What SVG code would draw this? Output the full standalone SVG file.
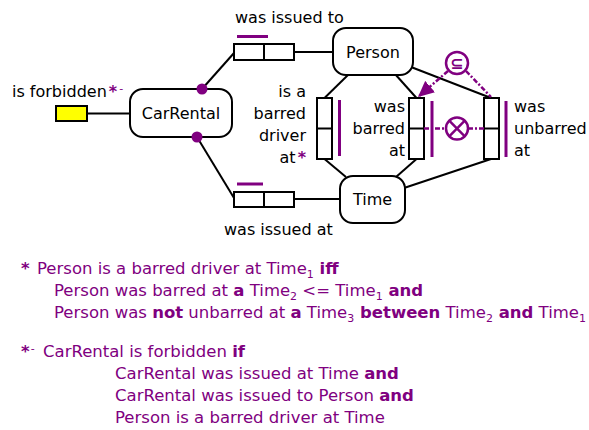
<svg xmlns="http://www.w3.org/2000/svg" width="589" height="430" viewBox="0 0 589 430">
<defs>
<style>
.t{font-family:"DejaVu Sans","Noto Sans",sans-serif;font-size:16px;fill:#000}
.n{font-family:"DejaVu Sans","Noto Sans",sans-serif;font-size:16.5px;fill:#800080}
.p{fill:#800080}
.b{font-weight:bold}
.ln{stroke:#000;stroke-width:2;fill:none}
.box{fill:#fff;stroke:#000;stroke-width:2}
.ent{fill:#fff;stroke:#000;stroke-width:2}
.pbar{stroke:#800080;stroke-width:3;fill:none}
.dash{stroke:#800080;stroke-width:2.5;stroke-dasharray:5 2 2 2;fill:none}
.pc{fill:#fff;stroke:#800080;stroke-width:2.5}
.dot{fill:#800080}
</style>
<marker id="arr" markerUnits="userSpaceOnUse" markerWidth="17" markerHeight="15" refX="16" refY="7.5" orient="auto">
<path d="M0,0 L16,7.5 L0,15 Z" fill="#800080"/>
</marker>
</defs>
<rect width="589" height="430" fill="#fff"/>

<g id="connectors">
<line class="ln" x1="87" y1="113.5" x2="130" y2="113.5"/>
<line class="ln" x1="202" y1="89" x2="234" y2="53"/>
<line class="ln" x1="197" y1="137" x2="234" y2="198"/>
<line class="ln" x1="294" y1="52" x2="333" y2="52"/>
<line class="ln" x1="294" y1="199" x2="340" y2="199"/>
<line class="ln" x1="349" y1="74" x2="324.5" y2="98"/>
<line class="ln" x1="324.5" y1="159" x2="346" y2="177"/>
<line class="ln" x1="395" y1="74" x2="416.5" y2="98"/>
<line class="ln" x1="416.5" y1="159" x2="396" y2="177"/>
<line class="ln" x1="411" y1="67" x2="491" y2="98"/>
<line class="ln" x1="404" y1="188" x2="491" y2="159"/>
</g>

<g id="CarRental">
<rect class="ent" x="130" y="89" width="102" height="48" rx="13"/>
<text class="t" x="181" y="119" text-anchor="middle">CarRental</text>
<circle class="dot" cx="202" cy="89" r="5.5"/>
<circle class="dot" cx="197" cy="137" r="5.5"/>
</g>

<g id="Person">
<rect class="ent" x="333" y="28" width="80" height="47" rx="13"/>
<text class="t" x="373" y="58" text-anchor="middle">Person</text>
</g>

<g id="Time">
<rect class="ent" x="340" y="176" width="65" height="47" rx="13"/>
<text class="t" x="372.5" y="205" text-anchor="middle">Time</text>
</g>

<g id="ft-forbidden">
<rect x="56" y="106" width="31" height="15" fill="#ffff00" stroke="#000" stroke-width="2"/>
<text class="t" x="12" y="97">is forbidden<tspan class="p b" dx="2">*</tspan><tspan class="p" font-size="11" dx="2" dy="-5">-</tspan></text>
</g>

<g id="ft-issuedTo">
<rect class="box" x="234" y="44" width="60" height="16"/>
<line class="ln" x1="264" y1="44" x2="264" y2="60"/>
<line class="pbar" x1="237" y1="36.5" x2="268" y2="36.5"/>
<text class="t" x="235" y="23" font-size="16.4">was issued to</text>
</g>

<g id="ft-issuedAt">
<rect class="box" x="234" y="192" width="60" height="15"/>
<line class="ln" x1="264" y1="192" x2="264" y2="207"/>
<line class="pbar" x1="237" y1="184" x2="263" y2="184"/>
<text class="t" x="224" y="235" font-size="16.2">was issued at</text>
</g>

<g id="ft-barredDriver">
<rect class="box" x="317" y="98" width="15" height="61"/>
<line class="ln" x1="317" y1="128.5" x2="332" y2="128.5"/>
<line class="pbar" x1="339.5" y1="100" x2="339.5" y2="156"/>
<text class="t" text-anchor="end"><tspan x="306" y="97">is a</tspan><tspan x="306" y="119">barred</tspan><tspan x="306" y="141">driver</tspan><tspan x="306" y="163">at<tspan class="p b" dx="2">*</tspan></tspan></text>
</g>

<g id="ft-barred">
<rect class="box" x="409" y="98" width="15" height="61"/>
<line class="ln" x1="409" y1="128.5" x2="424" y2="128.5"/>
<line class="pbar" x1="432" y1="101" x2="432" y2="157"/>
<text class="t" text-anchor="end"><tspan x="405" y="112">was</tspan><tspan x="405" y="134">barred</tspan><tspan x="405" y="156">at</tspan></text>
</g>

<g id="ft-unbarred">
<rect class="box" x="484" y="98" width="15" height="61"/>
<line class="ln" x1="484" y1="128.5" x2="499" y2="128.5"/>
<line class="pbar" x1="506" y1="101" x2="506" y2="157"/>
<text class="t"><tspan x="514" y="112">was</tspan><tspan x="514" y="134">unbarred</tspan><tspan x="514" y="156">at</tspan></text>
</g>

<g id="constraint-connectors">
<line class="dash" x1="424" y1="128.5" x2="446" y2="128.5"/>
<line class="dash" x1="468" y1="128.5" x2="484" y2="128.5"/>
<line class="dash" x1="448" y1="71" x2="418" y2="97" marker-end="url(#arr)"/>
<line class="dash" x1="466" y1="71" x2="491" y2="97"/>
</g>

<g id="subset">
<circle class="pc" cx="457" cy="63" r="11"/>
<text class="t p b" x="457" y="69" text-anchor="middle" font-size="15">⊆</text>
</g>

<g id="exclusion">
<circle class="pc" cx="457" cy="128.5" r="11"/>
<line stroke="#800080" stroke-width="2.5" x1="449.2" y1="120.7" x2="464.8" y2="136.3"/>
<line stroke="#800080" stroke-width="2.5" x1="449.2" y1="136.3" x2="464.8" y2="120.7"/>
</g>

<g id="notes">
<text class="n" x="21" y="274"><tspan class="b">*</tspan><tspan x="37">Person is a barred driver at Time</tspan><tspan font-size="11" dy="4">1</tspan><tspan class="b" dy="-4"> iff</tspan></text>
<text class="n" x="54" y="296">Person was barred at <tspan class="b">a</tspan> Time<tspan font-size="11" dy="4">2</tspan><tspan dy="-4"> &lt;= Time</tspan><tspan font-size="11" dy="4">1</tspan><tspan class="b" dy="-4"> and</tspan></text>
<text class="n" x="54" y="318">Person was <tspan class="b">not</tspan> unbarred at <tspan class="b">a</tspan> Time<tspan font-size="11" dy="4">3</tspan><tspan class="b" dy="-4"> between</tspan> Time<tspan font-size="11" dy="4">2</tspan><tspan class="b" dy="-4"> and</tspan> Time<tspan font-size="11" dy="4">1</tspan></text>
<text class="n" x="21" y="357"><tspan class="b">*</tspan><tspan font-size="11" dx="1" dy="-5">-</tspan><tspan x="43" dy="5">CarRental is forbidden </tspan><tspan class="b">if</tspan></text>
<text class="n" x="115" y="379">CarRental was issued at Time <tspan class="b">and</tspan></text>
<text class="n" x="115" y="401">CarRental was issued to Person <tspan class="b">and</tspan></text>
<text class="n" x="115" y="423">Person is a barred driver at Time</text>
</g>
</svg>
